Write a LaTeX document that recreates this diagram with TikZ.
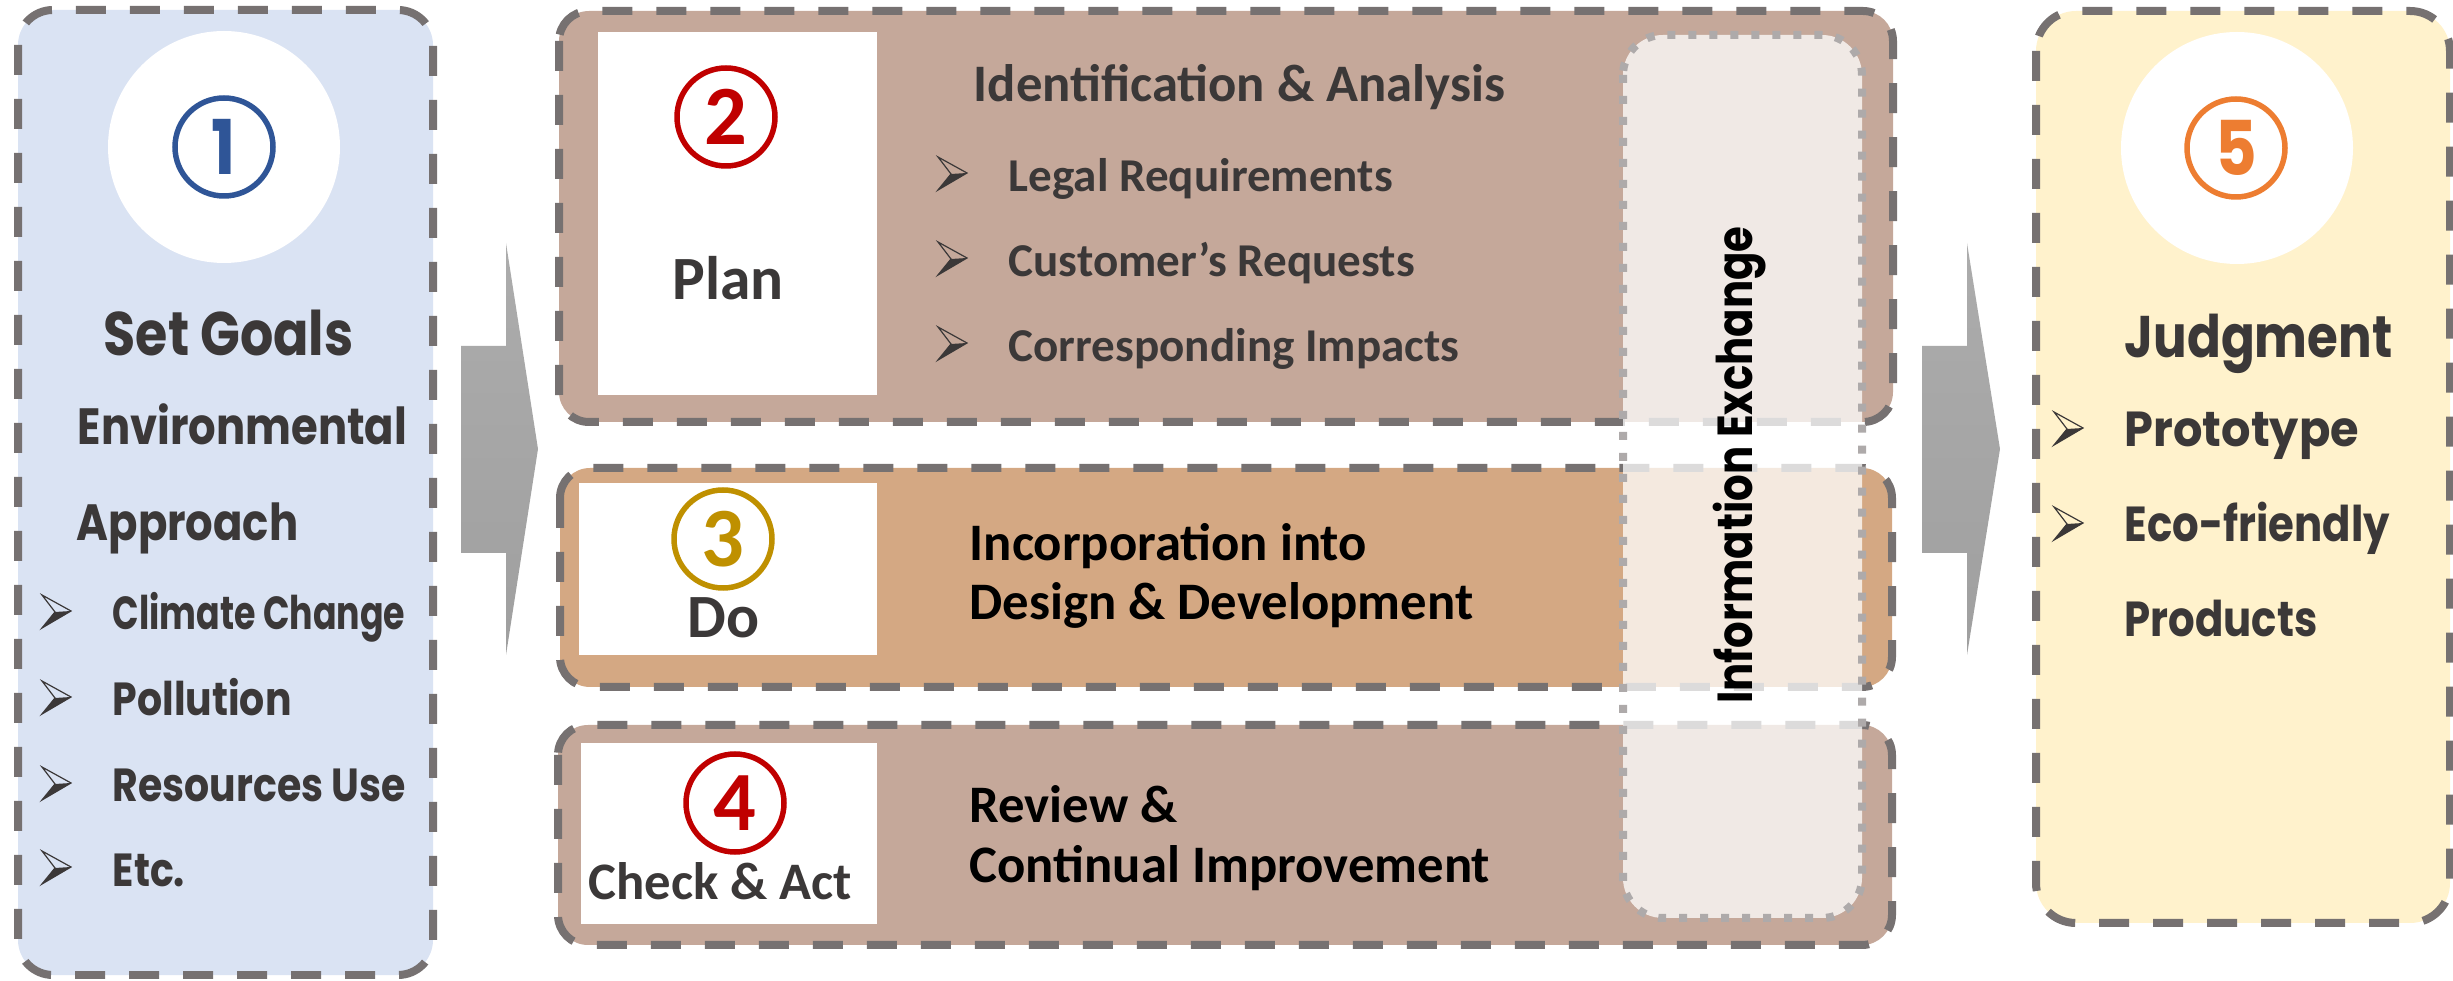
\documentclass[tikz,border=0pt]{standalone}
\usepackage{fontspec}
\setmainfont{Carlito}
\newfontfamily\gothic{Poppins}[FakeStretch=0.85]
\newfontfamily\gothicn{Poppins}[FakeStretch=0.75]
\newfontfamily\gothicw{Poppins}[FakeStretch=0.94]
\definecolor{txt}{HTML}{3B3838}
\definecolor{dashc}{HTML}{767171}
\definecolor{bluebg}{HTML}{DAE3F3}
\definecolor{yelbg}{HTML}{FFF2CC}
\definecolor{brownbg}{HTML}{C5A89A}
\definecolor{tanbg}{HTML}{D4A883}
\definecolor{dotc}{HTML}{AEAAAA}
\definecolor{cblue}{HTML}{2F5597}
\definecolor{cred}{HTML}{C00000}
\definecolor{cgold}{HTML}{BF9000}
\definecolor{corange}{HTML}{ED7D31}
\begin{document}
\begin{tikzpicture}[x=0.1mm,y=-0.1mm,
  boxline/.style={draw=dashc, line width=0.8mm, dash pattern=on 3mm off 2.4mm},
  dotline/.style={draw=dotc, line width=0.8mm, dash pattern=on 0.8mm off 1.3mm},
  lbl/.style={inner sep=0, anchor=base west},
  gtext/.style={lbl, text=txt, font=\gothic\bfseries},
  ctext/.style={lbl, text=txt, font=\bfseries},
  btext/.style={lbl, text=black, font=\bfseries\fontsize{15}{18}\selectfont},
  numc/.style={circle, draw=#1, text=#1, line width=0.55mm, minimum size=9.8mm, inner sep=0},
  garrow/.style={top color=gray!65, bottom color=gray!75, draw=none},
  arrowbul/.pic={
    \fill[txt] (13,-18) -- (29,-19) -- (0,-2) -- cycle;
    \draw[txt, line width=0.12mm, line join=miter] (0,-35) -- (29,-19) -- (0,-2) -- (13,-18) -- cycle;
  }
]
\useasboundingbox (0,0) rectangle (2453,981);

% ---------- left box ----------
\draw[boxline, fill=bluebg, rounded corners=3.5mm] (18,10) rectangle (433,975);
\fill[white] (224,147) circle[radius=11.6mm];
\node[numc=cblue, font=\gothic\bfseries\fontsize{21.5}{24}\selectfont] (n1) at (224,147) {1};
\node[gtext, font=\gothic\bfseries\fontsize{17.5}{20}\selectfont] (setgoals) at (103,356) {Set Goals};
\node[gtext, font=\gothic\bfseries\fontsize{14.5}{17}\selectfont] (env) at (77,445) {Environmental};
\node[gtext, font=\gothic\bfseries\fontsize{14.5}{17}\selectfont] (appr) at (76,541) {Approach};
\pic at (42,630) {arrowbul};
\pic at (42,716) {arrowbul};
\pic at (42,802) {arrowbul};
\pic at (42,886) {arrowbul};
\node[gtext, font=\gothicn\bfseries\fontsize{13.2}{16}\selectfont] (l1) at (112,630) {Climate Change};
\node[gtext, font=\gothic\bfseries\fontsize{13.2}{16}\selectfont] (l2) at (112,716) {Pollution};
\node[gtext, font=\gothic\bfseries\fontsize{13.2}{16}\selectfont] (l3) at (112,802) {Resources Use};
\node[gtext, font=\gothic\bfseries\fontsize{13.2}{16}\selectfont] (l4) at (112,886) {Etc.};

% ---------- arrows ----------
\shade[garrow] (461,346) -- (506,346) -- (506,243) -- (538,449) -- (506,655) -- (506,553) -- (461,553) -- cycle;
\shade[garrow] (1922,346) -- (1967,346) -- (1967,243) -- (2000,449) -- (1967,655) -- (1967,553) -- (1922,553) -- cycle;

% ---------- plan box ----------
\draw[boxline, fill=brownbg, rounded corners=3mm] (559,11) rectangle (1893,422);
\fill[white] (598,32) rectangle (877,395);
\node[numc=cred, font=\bfseries\fontsize{24}{26}\selectfont] (n2) at (726,117) {2};
\node[ctext, font=\bfseries\fontsize{17.5}{20}\selectfont] (plan) at (672,300) {Plan};
\node[ctext, font=\bfseries\fontsize{15}{18}\selectfont] (ident) at (973,102) {Identification \& Analysis};
\pic at (938,192) {arrowbul};
\pic at (938,277) {arrowbul};
\pic at (938,362) {arrowbul};
\node[ctext, font=\bfseries\fontsize{13.4}{16}\selectfont] (legal) at (1008,192) {Legal Requirements};
\node[ctext, font=\bfseries\fontsize{13.4}{16}\selectfont] (cust) at (1008,277) {Customer’s Requests};
\node[ctext, font=\bfseries\fontsize{13.4}{16}\selectfont] (corr) at (1008,362) {Corresponding Impacts};

% ---------- do box ----------
\draw[boxline, fill=tanbg, rounded corners=3mm] (560,468) rectangle (1892,687);
\fill[white] (579,483) rectangle (877,655);
\node[numc=cgold, font=\bfseries\fontsize{24}{26}\selectfont] (n3) at (723,539) {3};
\node[ctext, font=\bfseries\fontsize{17.5}{20}\selectfont] (do) at (687,638) {Do};
\node[btext] (inc1) at (969,561) {Incorporation into};
\node[btext] (inc2) at (969,620) {Design \& Development};

% ---------- check box ----------
\draw[boxline, fill=brownbg, rounded corners=3mm] (558,725) rectangle (1892,945);
\fill[white] (581,743) rectangle (877,924);
\node[numc=cred, font=\bfseries\fontsize{24}{26}\selectfont] (n4) at (735,803) {4};
\node[ctext, font=\bfseries\fontsize{15}{18}\selectfont] (check) at (588,899) {Check \& Act};
\node[btext] (rev1) at (969,823) {Review \&};
\node[btext] (rev2) at (969,882) {Continual Improvement};

% ---------- information exchange ----------
\fill[white, fill opacity=0.75, rounded corners=4mm] (1623,35) rectangle (1862,918);
\draw[dotline, rounded corners=4mm] (1623,35) rectangle (1862,918);
\node[inner sep=0, anchor=base, rotate=90, text=black, font=\gothic\bfseries\fontsize{14}{16}\selectfont] (info) at (1752,465) {Information Exchange};

% ---------- right box ----------
\draw[boxline, fill=yelbg, rounded corners=4mm] (2036,11) rectangle (2450,923);
\fill[white] (2237,148) circle[radius=11.6mm];
\node[numc=corange, font=\gothic\bfseries\fontsize{21.5}{24}\selectfont] (n5) at (2236,148) {5};
\node[gtext, font=\gothic\bfseries\fontsize{16.7}{19}\selectfont] (judg) at (2124,358) {Judgment};
\pic at (2054,447) {arrowbul};
\pic at (2054,542) {arrowbul};
\node[gtext, font=\gothicw\bfseries\fontsize{14}{17}\selectfont] (proto) at (2124,447) {Prototype};
\node[gtext, font=\gothic\bfseries\fontsize{14}{17}\selectfont] (eco) at (2124,542) {Eco-friendly};
\node[gtext, font=\gothic\bfseries\fontsize{14}{17}\selectfont] (prod) at (2124,637) {Products};
\end{tikzpicture}
\end{document}
